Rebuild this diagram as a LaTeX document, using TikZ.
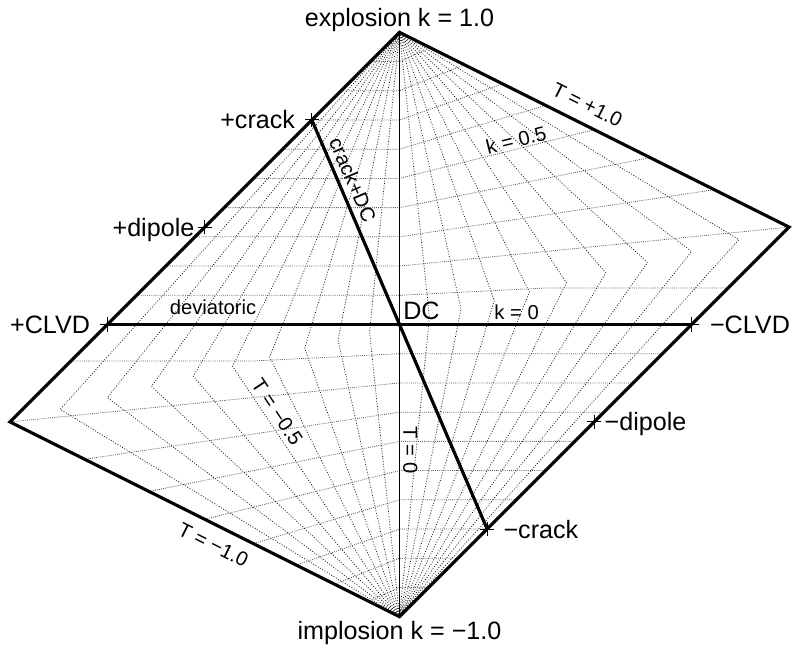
\documentclass[tikz,border=0pt]{standalone}
\usepackage{fontspec}
\setmainfont{Liberation Sans}
\usetikzlibrary{positioning}

\newcommand{\biglbl}{\fontsize{14.3}{17}\selectfont}
\newcommand{\smalllbl}{\fontsize{11.5}{14}\selectfont}

\begin{document}
\begin{tikzpicture}[x=5.844cm, y=5.844cm,
edgeline/.style = {line width=1.8pt, line join=miter},
axisline/.style = {line width=0.6pt},
Tgrid/.style = {line width=0.45pt, black!90, dash pattern=on 0.5pt off 1pt},
kgrid/.style = {line width=0.45pt, black!65, dash pattern=on 0.5pt off 0.7pt},
tickmark/.style = {line width=0.6pt},
biglabel/.style = {font=\biglbl, inner sep=0pt, text height=10.2pt, text depth=0pt},
smalllabel/.style = {font=\smalllbl, inner sep=0pt, text height=8.2pt, text depth=0pt}]

        \useasboundingbox (-1.3672,-1.1413) rectangle (1.3706,1.1105);

        % corners of the skewed diamond
        \coordinate (EX) at ( 0, 1 );
        \coordinate (IM) at ( 0, -1 );
        \coordinate (RV) at ( 4/3, 1/3 );
        \coordinate (LV) at ( -4/3, -1/3 );
        \coordinate (DC) at ( 0, 0 );
        % source types
        \coordinate (PCLVD) at ( -1, 0 );
        \coordinate (MCLVD) at ( 1, 0 );
        \coordinate (PDP) at ( -2/3, 1/3 );
        \coordinate (MDP) at ( 2/3, -1/3 );
        \coordinate (PCR) at ( -0.3, 0.7 );
        \coordinate (MCR) at ( 0.3, -0.7 );
        % pieces of grid lines that carry labels
        \coordinate (K5a) at ( 0, 0.5 );
        \coordinate (K5b) at ( 2/3, 2/3 );
        \coordinate (TMa) at ( -4/7, -1/7 );

        % grid of constant T and constant k
        \foreach \i in {1,...,9}{
          \pgfmathsetmacro\t{\i/10}
          \foreach \r in {0,180}{
            \begin{scope}[rotate=\r]
              \draw[Tgrid] (0,1) -- ({4*\t/(4-\t)},{\t/(4-\t)}) -- (\t,0) -- (0,-1);
              \ifnum\i<2
                \draw[kgrid] ({\t-1},\t) -- (0,\t) -- ({4*\t/(1-2*\t)},{\t/(1-2*\t)})
                  -- ({(1-\t)/(1-2*\t)},{\t/(1-2*\t)});
              \else
                \draw[kgrid] ({\t-1},\t) -- (0,\t) -- ({2*(1-\t)/(1+\t)},{2*\t/(1+\t)});
              \fi
            \end{scope}
          }
        }

        \draw[axisline] (EX) -- (IM);
        \draw[edgeline] (EX) -- (RV) -- (IM) -- (LV) -- cycle;
        \draw[edgeline] (PCLVD) -- (MCLVD);
        \draw[edgeline] (PCR) -- (MCR);

        \foreach \p in {PCR,PDP,PCLVD,MCLVD,MDP,MCR}
          \draw[tickmark] (\p) ++(-0.024,0) -- ++(0.048,0) (\p) ++(0,-0.024) -- ++(0,0.048);

        % source type labels
        \node[biglabel, above=0.1cm of EX] (lexpl) {explosion k = 1.0};
        \node[biglabel, below=0.1cm of IM] (limpl) {implosion k = −1.0};
        \node[biglabel, left=0.33cm of PCR] (lpcrack) {+crack};
        \node[biglabel, left=0.2cm of PDP] (lpdipole) {+dipole};
        \node[biglabel, left=0.34cm of PCLVD] (lpclvd) {+CLVD};
        \node[biglabel, right=0.36cm of MCLVD] (lmclvd) {−CLVD};
        \node[biglabel, right=0.2cm of MDP] (lmdipole) {−dipole};
        \node[biglabel, right=0.32cm of MCR] (lmcrack) {−crack};
        \node[biglabel, above right=0.1cm and 0.07cm of DC] (ldc) {DC};

        % line labels
        \path (PCLVD) -- (DC) node[smalllabel, pos=0.362, anchor=south, inner ysep=0.19cm] (ldev) {deviatoric};
        \path (DC) -- (MCLVD) node[smalllabel, pos=0.401, anchor=south, inner ysep=0.1cm] (lkzero) {k = 0};
        \path (K5a) -- (K5b) node[smalllabel, sloped, pos=0.61, anchor=south, inner ysep=0.03cm] (lkhalf) {k = 0.5};
        \path (EX) -- (RV) node[smalllabel, sloped, pos=0.46, anchor=south, inner ysep=0.24cm] (ltplus) {T = +1.0};
        \path (LV) -- (IM) node[smalllabel, sloped, pos=0.544, anchor=north, inner ysep=0.22cm] (ltminus) {T = −1.0};
        \path (TMa) -- (IM) node[smalllabel, sloped, pos=0.209, anchor=south, inner ysep=0.09cm] (lthalf) {T = −0.5};
        \path (PCR) -- (DC) node[smalllabel, sloped, pos=0.32, anchor=south, inner ysep=0.13cm] (lcrackdc) {crack+DC};
        \path (DC) -- (IM) node[smalllabel, pos=0.4295, rotate=-90, anchor=south, inner ysep=0.07cm] (ltzero) {T = 0};

    \end{tikzpicture}
\end{document}
